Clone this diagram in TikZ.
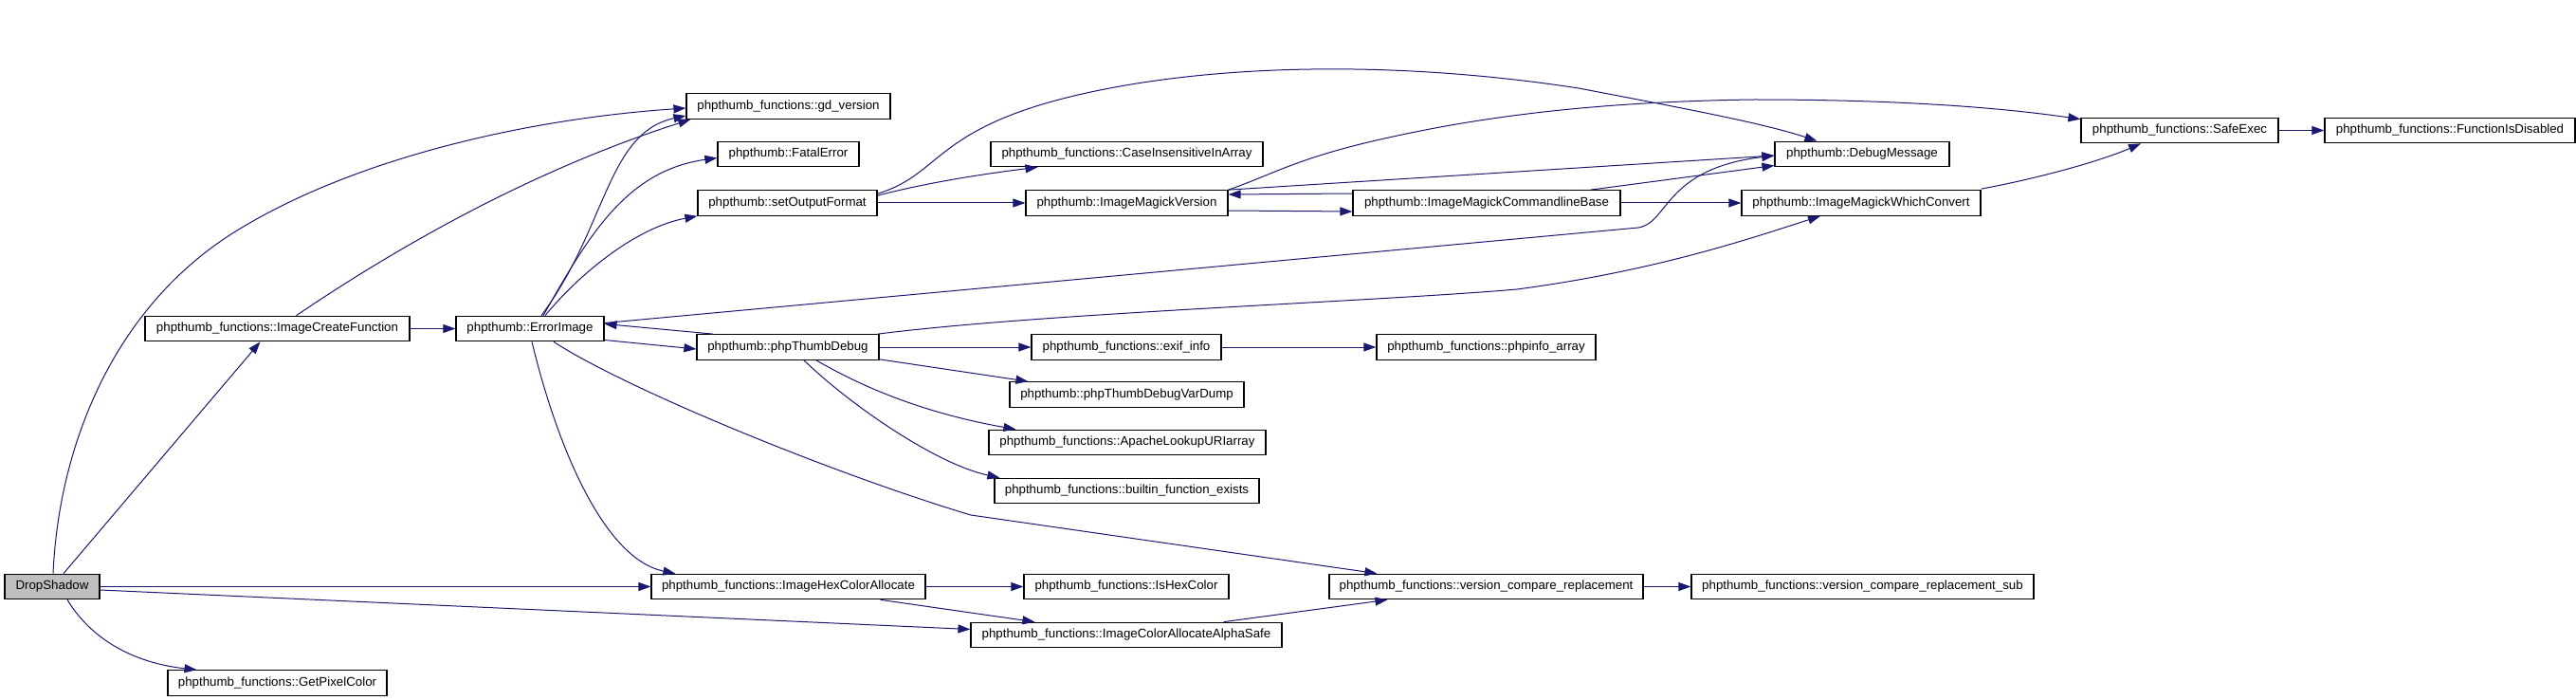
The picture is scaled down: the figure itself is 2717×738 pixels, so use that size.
\documentclass[tikz,border=0pt]{standalone}
\usepackage{fontspec}
\setmainfont{Liberation Sans}
\usetikzlibrary{arrows.meta,calc}
\definecolor{edgeblue}{HTML}{191970}
\definecolor{rootgray}{HTML}{BFBFBF}
\begin{document}
\begin{tikzpicture}[x=1pt,y=-1pt,
  fbox/.style={draw=black,line width=1.2pt,fill=white,inner sep=0pt,minimum height=26.5pt,
    font=\fontsize{13.3pt}{16pt}\selectfont,anchor=center},
  call/.style={draw=edgeblue,line width=1pt,-{Triangle[length=13pt,width=9pt]}}]
\useasboundingbox[fill=white] (0,0) rectangle (2717,738);
% nodes
\node[fbox,fill=rootgray,minimum width=100pt] (ds) at (55,618.5) {DropShadow};
\node[fbox,minimum width=279pt] (icf) at (292.5,346.5) {phpthumb\_functions::ImageCreateFunction};
\node[fbox,minimum width=231pt] (gpc) at (292.5,720) {phpthumb\_functions::GetPixelColor};
\node[fbox,minimum width=156pt] (ei) at (559,346.5) {phpthumb::ErrorImage};
\node[fbox,minimum width=215pt] (gd) at (831.5,112) {phpthumb\_functions::gd\_version};
\node[fbox,minimum width=149pt] (fe) at (831.5,162.5) {phpthumb::FatalError};
\node[fbox,minimum width=189pt] (sof) at (830.5,214) {phpthumb::setOutputFormat};
\node[fbox,minimum width=192pt] (ptd) at (831,366) {phpthumb::phpThumbDebug};
\node[fbox,minimum width=289pt] (ihca) at (831.5,618.5) {phpthumb\_functions::ImageHexColorAllocate};
\node[fbox,minimum width=287pt] (cia) at (1188.5,162.5) {phpthumb\_functions::CaseInsensitiveInArray};
\node[fbox,minimum width=213pt] (imv) at (1188.5,214) {phpthumb::ImageMagickVersion};
\node[fbox,minimum width=200pt] (exif) at (1188,366) {phpthumb\_functions::exif\_info};
\node[fbox,minimum width=247pt] (vd) at (1188.5,416) {phpthumb::phpThumbDebugVarDump};
\node[fbox,minimum width=292pt] (apl) at (1189,466.5) {phpthumb\_functions::ApacheLookupURIarray};
\node[fbox,minimum width=279pt] (bfe) at (1188.5,517.5) {phpthumb\_functions::builtin\_function\_exists};
\node[fbox,minimum width=216pt] (ihc) at (1188,618.5) {phpthumb\_functions::IsHexColor};
\node[fbox,minimum width=328pt] (icaas) at (1188,669.5) {phpthumb\_functions::ImageColorAllocateAlphaSafe};
\node[fbox,minimum width=282pt] (clb) at (1568,214) {phpthumb::ImageMagickCommandlineBase};
\node[fbox,minimum width=231pt] (pia) at (1567.5,366) {phpthumb\_functions::phpinfo\_array};
\node[fbox,minimum width=331pt] (vcr) at (1567.5,618.5) {phpthumb\_functions::version\_compare\_replacement};
\node[fbox,minimum width=184pt] (dm) at (1964,162.5) {phpthumb::DebugMessage};
\node[fbox,minimum width=252pt] (wc) at (1963,214) {phpthumb::ImageMagickWhichConvert};
\node[fbox,minimum width=361pt] (vcrs) at (1964.5,618.5) {phpthumb\_functions::version\_compare\_replacement\_sub};
\node[fbox,minimum width=208pt] (se) at (2299,137.5) {phpthumb\_functions::SafeExec};
\node[fbox,minimum width=264pt] (fid) at (2584,137.5) {phpthumb\_functions::FunctionIsDisabled};
% edges
\draw[call] ($(ds.north)+(1,0)$) .. controls (62,470) and (120,320) .. (255,240) .. controls (380,165) and (560,125) .. ($(gd.west)+(0,2)$);
\draw[call] ($(ds.north)+(12,0)$) -- ($(icf.south)+(-18,0)$);
\draw[call] (ds.east) -- (ihca.west);
\draw[call] ($(ds.east)+(0,3.5)$) -- ($(icaas.west)+(0,-6)$);
\draw[call] ($(ds.south)+(16,0)$) .. controls (100,680) and (150,700) .. ($(gpc.north)+(-85,0)$);
\draw[call] ($(icf.north)+(20,0)$) .. controls (420,260) and (560,180) .. ($(gd.south west)+(5,0)$);
\draw[call] (icf.east) -- (ei.west);
\draw[call] ($(ei.north)+(12,0)$) .. controls (640,240) and (640,140) .. ($(gd.west)+(0,10)$);
\draw[call] ($(ei.north)+(14,0)$) .. controls (620,250) and (660,180) .. ($(fe.west)+(0,4)$);
\draw[call] ($(ei.north)+(16,0)$) .. controls (610,290) and (670,240) .. (sof.south west);
\draw[call] ($(ei.east)+(0,12)$) -- ($(ptd.west)+(0,2)$);
\draw[call] ($(ptd.north west)+(18,0)$) -- ($(ei.east)+(0,-5)$);
\draw[call] ($(ei.east)+(0,-6)$) -- (1728,240) .. controls (1760,235) and (1755,178) .. ($(dm.west)+(0,1.5)$);
\draw[call] ($(sof.north east)+(0,6)$) .. controls (980,192) and (1040,183) .. ($(cia.south west)+(50,0)$);
\draw[call] (sof.east) -- (imv.west);
\draw[call] ($(sof.north east)+(0,4)$) .. controls (990,185) and (985,140) .. (1117,105) .. controls (1250,70) and (1450,60) .. (1665,93) .. controls (1780,115) and (1860,130) .. ($(dm.north west)+(45,0)$);
\draw[call] ($(imv.east)+(0,8)$) -- ($(clb.west)+(0,9)$);
\draw[call] ($(clb.west)+(0,-10)$) -- ($(imv.east)+(0,-9)$);
\draw[call] (imv.north east) -- ($(dm.west)+(0,1.5)$);
\draw[call] ($(clb.north east)+(-32,0)$) -- ($(dm.west)+(0,12)$);
\draw[call] (clb.east) -- (wc.west);
\draw[call] (imv.north east) .. controls (1345,183) and (1370,165) .. (1474,143) .. controls (1580,120) and (1700,107) .. (1850,105) .. controls (1990,105) and (2100,112) .. ($(se.north west)+(0,2)$);
\draw[call] ($(wc.north east)+(0,-1)$) .. controls (2150,188) and (2215,170) .. ($(se.south)+(-41,0)$);
\draw[call] (se.east) -- (fid.west);
\draw[call] (ptd.east) -- (exif.west);
\draw[call] (exif.east) -- (pia.west);
\draw[call] ($(ptd.north east)+(-2,0)$) .. controls (1100,330) and (1450,318) .. (1600,305) .. controls (1750,285) and (1850,250) .. ($(wc.south)+(-43,0)$);
\draw[call] ($(ptd.south east)+(0,-1)$) -- ($(vd.north west)+(20,0)$);
\draw[call] ($(ptd.south)+(30,0)$) .. controls (930,420) and (1000,440) .. ($(apl.north west)+(29,0)$);
\draw[call] ($(ptd.south)+(17,0)$) .. controls (900,430) and (990,490) .. ($(bfe.north west)+(6,0)$);
\draw[call] ($(ei.south)+(2,0)$) .. controls (590,480) and (640,590) .. ($(ihca.north west)+(26,0)$);
\draw[call] ($(ei.south)+(25,0)$) .. controls (660,410) and (880,500) .. (1024,543) -- ($(vcr.north west)+(51,0)$);
\draw[call] (ihca.east) -- (ihc.west);
\draw[call] ($(ihca.south east)+(-48,0)$) -- ($(icaas.north west)+(68,0)$);
\draw[call] ($(icaas.north east)+(-62,0)$) -- ($(vcr.south west)+(62,0)$);
\draw[call] (vcr.east) -- (vcrs.west);
\end{tikzpicture}
\end{document}
